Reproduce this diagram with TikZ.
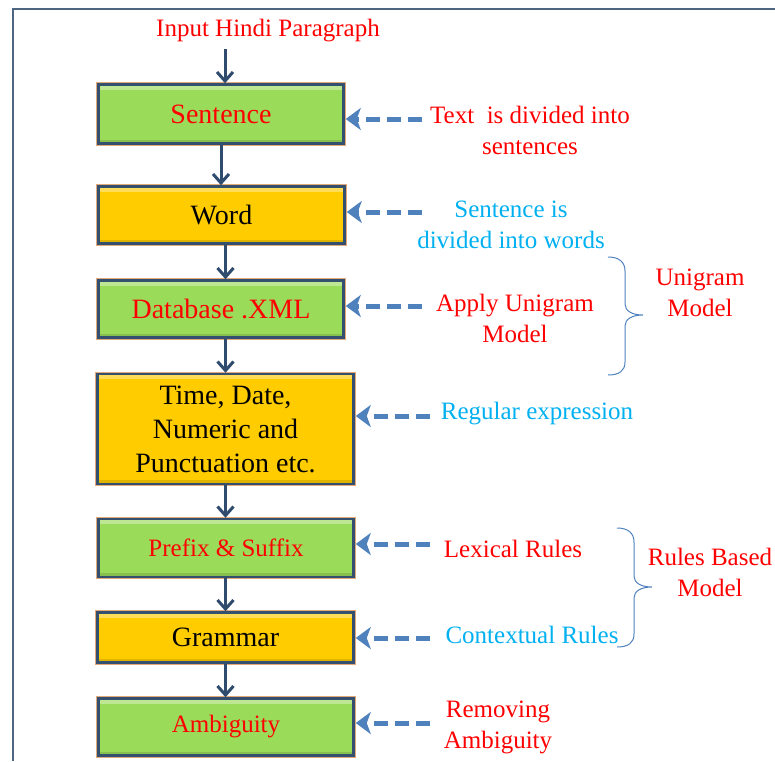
\documentclass[tikz,border=0pt]{standalone}
\usepackage{fontspec}
\newfontfamily\diagfont{Liberation Serif}
\usetikzlibrary{arrows.meta}

\definecolor{boxgreen}{HTML}{9ADB5A}
\definecolor{boxyellow}{HTML}{FFCC00}
\definecolor{edge}{HTML}{34506F}
\definecolor{rim}{HTML}{E3A87A}
\definecolor{flowdark}{HTML}{2F4B6E}
\definecolor{dashblue}{HTML}{4F81BD}
\definecolor{skyblue}{HTML}{00B0F0}
\definecolor{redtext}{HTML}{FF0000}
\definecolor{framecol}{HTML}{4E6684}

\tikzset{
  stagebox/.style={draw=edge, line width=2.5pt, inner sep=0pt,
    preaction={draw=rim, line width=4.5pt},
    path picture={
      \fill[white, opacity=0.35] (path picture bounding box.north west)
        rectangle ([yshift=-5pt]path picture bounding box.north east);
      \fill[black, opacity=0.12] (path picture bounding box.south west)
        rectangle ([yshift=4pt]path picture bounding box.south east);
    },
    align=center},
  greenbox/.style={stagebox, fill=boxgreen, text=redtext},
  yellowbox/.style={stagebox, fill=boxyellow, text=black},
  bigtext/.style={font=\diagfont\fontsize{28}{34}\selectfont},
  smalltext/.style={font=\diagfont\fontsize{25}{31}\selectfont},
  lbl/.style={smalltext, align=center, inner sep=0pt},
  flow/.style={draw=flowdark, line width=3pt,
    -{Straight Barb[length=9pt,width=16pt,line width=3pt]}},
  hint/.style={draw=dashblue, line width=5pt, dash pattern=on 14pt off 7pt,
    shorten >=1pt, -{Stealth[length=15pt,width=22pt,inset=4pt]}},
  bracket/.style={draw=dashblue, line width=1pt},
}

\begin{document}
\begin{tikzpicture}[x=1pt, y=-1pt]
  \useasboundingbox (0,0) rectangle (775,761);

  % page frame
  \draw[framecol, line width=2pt] (775,9) -- (13,9) -- (13,761);

  % processing stages
  \node[lbl, text=redtext] (input) at (268,31) {Input Hindi Paragraph};
  \node[greenbox, bigtext, minimum width=245pt, minimum height=59pt]
    (sent) at (221,114) {Sentence};
  \node[yellowbox, bigtext, minimum width=246pt, minimum height=57pt]
    (word) at (221.5,215) {Word};
  \node[greenbox, bigtext, minimum width=245pt, minimum height=57pt]
    (db) at (221,309) {Database .XML};
  \node[yellowbox, bigtext, minimum width=256pt, minimum height=110pt]
    (time) at (225.5,429) {Time, Date,\\Numeric and\\Punctuation etc.};
  \node[greenbox, smalltext, minimum width=255pt, minimum height=58pt]
    (prefix) at (226,548) {Prefix \& Suffix};
  \node[yellowbox, bigtext, minimum width=256pt, minimum height=50pt]
    (gram) at (225.5,637.5) {Grammar};
  \node[greenbox, smalltext, minimum width=255pt, minimum height=57pt]
    (amb) at (226,727) {Ambiguity};

  % flow between stages
  \coordinate (in0) at (225,49);
  \draw[flow] (in0) -- (in0 |- sent.north);
  \draw[flow] (sent.south) -- (sent.south |- word.north);
  \draw[flow] (word.south -| time.north) -- (db.north -| time.north);
  \draw[flow] (db.south -| time.north) -- (time.north);
  \draw[flow] (time.south) -- (time.south |- prefix.north);
  \draw[flow] (prefix.south -| gram.north) -- (gram.north);
  \draw[flow] (gram.south) -- (gram.south |- amb.north);

  % side notes
  \node[lbl, text=redtext] (n1) at (530,130.5) {Text~ is divided into\\sentences};
  \node[lbl, text=skyblue] (n2) at (511,225) {Sentence is\\divided into words};
  \node[lbl, text=redtext] (n3) at (515,318) {Apply Unigram\\Model};
  \node[lbl, text=skyblue] (n4) at (537,414) {Regular expression};
  \node[lbl, text=redtext] (n5) at (513,549) {Lexical Rules};
  \node[lbl, text=skyblue] (n6) at (532,635) {Contextual Rules};
  \node[lbl, text=redtext] (n7) at (498,727) {Removing\\Ambiguity};

  % dashed pointers into the stages
  \coordinate (p1) at (422,119);
  \coordinate (p2) at (422,212);
  \coordinate (p3) at (422,306);
  \coordinate (p4) at (430,416);
  \coordinate (p5) at (430,544);
  \coordinate (p6) at (430,638);
  \coordinate (p7) at (430,723);
  \draw[hint] (p1) -- (p1 -| sent.east);
  \draw[hint] (p2) -- (p2 -| word.east);
  \draw[hint] (p3) -- (p3 -| db.east);
  \draw[hint] (p4) -- (p4 -| time.east);
  \draw[hint] (p5) -- (p5 -| prefix.east);
  \draw[hint] (p6) -- (p6 -| gram.east);
  \draw[hint] (p7) -- (p7 -| amb.east);

  % model groupings (curly brackets)
  \draw[bracket] (608,257) .. controls (619,257) and (625,262) .. (625,271)
    -- (625,304) .. controls (625,311) and (632,315) .. (643,315)
    .. controls (632,315) and (625,319) .. (625,326)
    -- (625,362) .. controls (625,371) and (619,375) .. (608,375);
  \node[lbl, text=redtext] (m1) at (700,292.5) {Unigram\\Model};

  \draw[bracket] (617,528) .. controls (628,528) and (634,533) .. (634,542)
    -- (634,576) .. controls (634,583) and (641,587) .. (652,587)
    .. controls (641,587) and (634,591) .. (634,598)
    -- (634,634) .. controls (634,643) and (628,647) .. (617,647);
  \node[lbl, text=redtext] (m2) at (710,572.5) {Rules Based\\Model};
\end{tikzpicture}
\end{document}
